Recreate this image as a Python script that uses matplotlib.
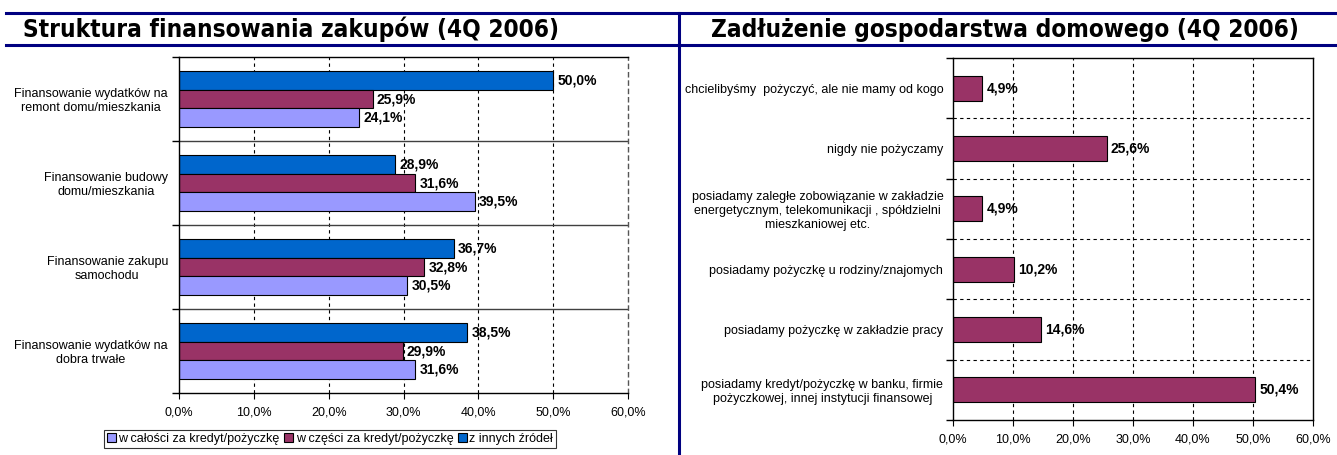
import numpy as np
import matplotlib
matplotlib.use("Agg")
import matplotlib.pyplot as plt
from matplotlib.lines import Line2D
from matplotlib.ticker import FuncFormatter

# --- data ---
left_title = "Struktura finansowania zakupów (4Q 2006)"
right_title = "Zadłużenie gospodarstwa domowego (4Q 2006)"

purchase_cats = [
    "Finansowanie wydatków na\nremont domu/mieszkania",
    "Finansowanie budowy\ndomu/mieszkania",
    "Finansowanie zakupu\nsamochodu",
    "Finansowanie wydatków na\ndobra trwałe",
]
series_names = ["w całości za kredyt/pożyczkę", "w części za kredyt/pożyczkę", "z innych źródeł"]
whole_credit = [24.1, 39.5, 30.5, 31.6]
part_credit = [25.9, 31.6, 32.8, 29.9]
other_sources = [50.0, 28.9, 36.7, 38.5]

debt_cats = [
    "chcielibyśmy  pożyczyć, ale nie mamy od kogo",
    "nigdy nie pożyczamy",
    "posiadamy zaległe zobowiązanie w zakładzie\nenergetycznym, telekomunikacji , spółdzielni\nmieszkaniowej etc.",
    "posiadamy pożyczkę u rodziny/znajomych",
    "posiadamy pożyczkę w zakładzie pracy",
    "posiadamy kredyt/pożyczkę w banku, firmie\npożyczkowej, innej instytucji finansowej",
]
debt_vals = [4.9, 25.6, 4.9, 10.2, 14.6, 50.4]

x_ticks = [0, 10, 20, 30, 40, 50, 60]

# --- styling ---
plt.rcParams['font.family'] = ['Liberation Sans', 'DejaVu Sans']
W, H = 1337, 455
NAVY = "#000080"
c_whole, c_part, c_other = "#9999FF", "#993366", "#0066CC"


def pct(v, _=None):
    return f"{v:.1f}%".replace(".", ",")


def fx(x):
    return x / W


def fy(y):
    return 1 - y / H


fig = plt.figure(figsize=(W / 100, H / 100), dpi=100)


def style_axis(ax, n, sep_style, pad):
    ax.set_xlim(0, 60)
    ax.set_ylim(n - 0.5, -0.5)
    ax.set_xticks(x_ticks)
    ax.xaxis.set_major_formatter(FuncFormatter(pct))
    ax.set_yticks(np.arange(n + 1) - 0.5, minor=True)
    ax.tick_params(axis="y", which="major", length=0, pad=pad, labelsize=9)
    ax.tick_params(axis="y", which="minor", length=5, width=1, direction="out")
    ax.tick_params(axis="x", length=4, direction="out", labelsize=9, pad=6)
    for x in x_ticks[1:-1]:
        ax.axvline(x, color="black", lw=0.8, ls=(0, (3, 3)), zorder=0.5)
    for b in np.arange(1, n) - 0.5:
        ax.axhline(b, zorder=0.5, **sep_style)
    for s in ax.spines.values():
        s.set_linewidth(1)


# --- left chart ---
axl = fig.add_axes([fx(179), fy(393), fx(628 - 179), (393 - 57) / H])
y = np.arange(len(purchase_cats))
h = 0.226
for vals, col, off, name in [(other_sources, c_other, -h, series_names[2]),
                             (part_credit, c_part, 0, series_names[1]),
                             (whole_credit, c_whole, h, series_names[0])]:
    bars = axl.barh(y + off, vals, height=h, color=col, edgecolor="black",
                    linewidth=0.8, label=name, zorder=2)
    axl.bar_label(bars, labels=[pct(v) for v in vals], padding=3,
                  fontsize=10, fontweight="bold", zorder=3)
style_axis(axl, len(purchase_cats), dict(color="#404040", lw=1, ls="-"), 8)
axl.set_yticks(y)
axl.set_yticklabels(purchase_cats)
for t in axl.get_yticklabels():
    t.set_multialignment("center")
axl.spines["right"].set_linestyle((0, (3, 3)))
axl.spines["right"].set_color("#555555")

handles, labels = axl.get_legend_handles_labels()
leg = fig.legend(handles[::-1], labels[::-1], loc="center", ncol=3,
                 bbox_to_anchor=(fx(330), fy(439)), fontsize=9,
                 frameon=True, fancybox=False, edgecolor="black",
                 handlelength=0.7, handleheight=0.7, handletextpad=0.2,
                 columnspacing=0.4, borderpad=0.25, borderaxespad=0)
leg.get_frame().set_linewidth(0.8)

# --- right chart ---
axr = fig.add_axes([fx(953), fy(420), fx(1313 - 953), (420 - 58) / H])
yr = np.arange(len(debt_cats))
bars = axr.barh(yr, debt_vals, height=0.415, color=c_part, edgecolor="black",
                linewidth=0.8, zorder=2)
axr.bar_label(bars, labels=[pct(v) for v in debt_vals], padding=3,
              fontsize=10, fontweight="bold", zorder=3)
style_axis(axr, len(debt_cats), dict(color="black", lw=0.8, ls=(0, (3, 3))), 7)
axr.set_yticks(yr)
axr.set_yticklabels(debt_cats)
for t in axr.get_yticklabels():
    t.set_multialignment("center")

# --- title bands and frame lines ---
lw = 2.2
for yy in (13, 45):
    fig.add_artist(Line2D([fx(6), 1], [fy(yy), fy(yy)], color=NAVY, lw=lw,
                          transform=fig.transFigure, zorder=10))
fig.add_artist(Line2D([fx(679), fx(679)], [fy(13), 0], color=NAVY, lw=lw,
                      transform=fig.transFigure, zorder=10))

fig.text(fx(23), fy(37), left_title, fontsize=17.5, fontweight="bold",
         fontstretch="condensed", va="baseline", ha="left", family="DejaVu Sans")
fig.text(fx(711), fy(37), right_title, fontsize=17.5, fontweight="bold",
         fontstretch="condensed", va="baseline", ha="left", family="DejaVu Sans")

fig.savefig("out.png", dpi=100)
